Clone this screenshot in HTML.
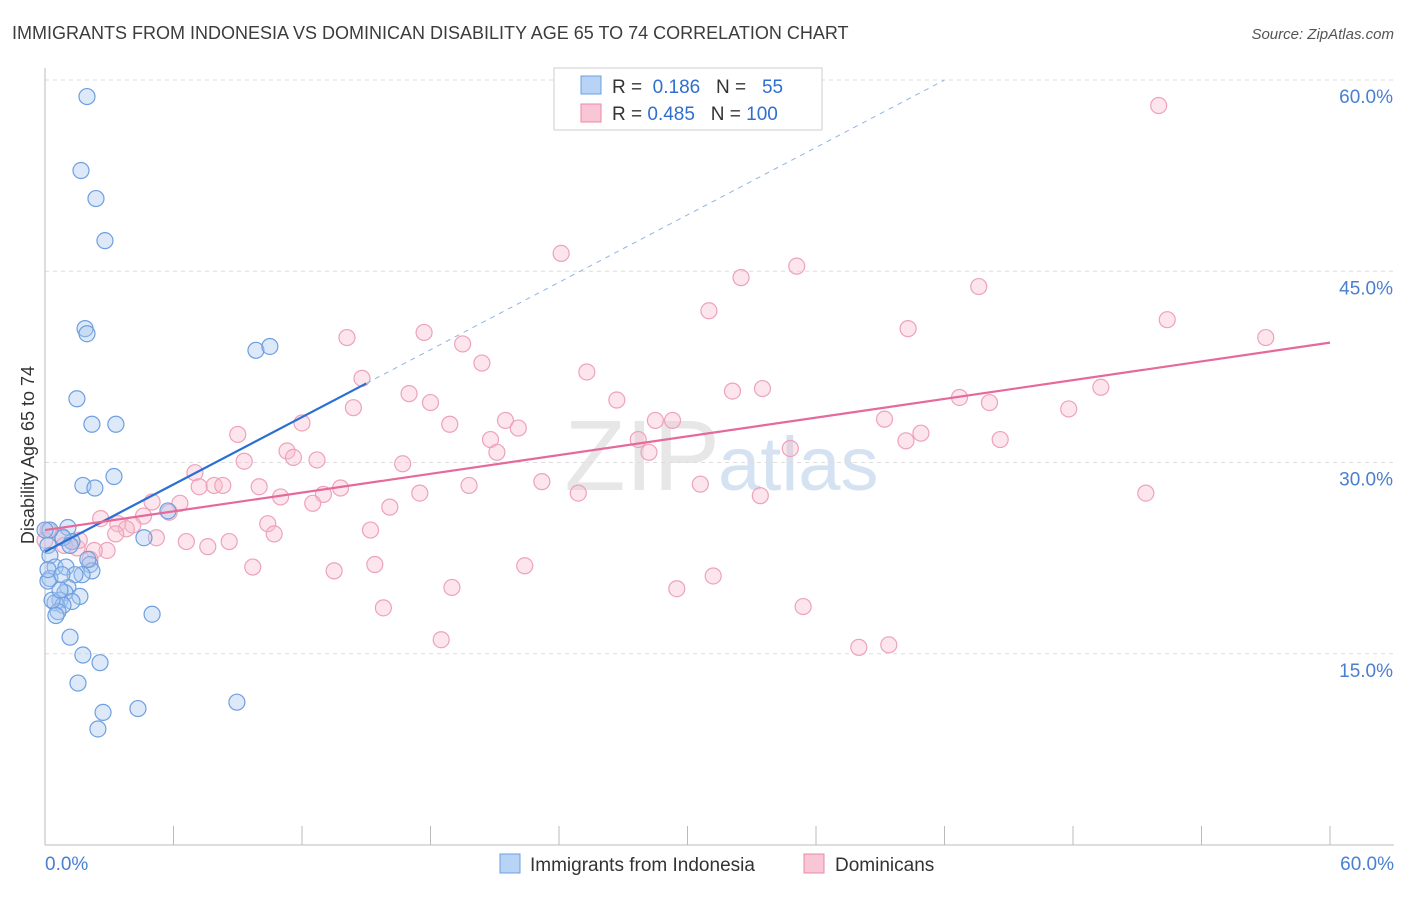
<!DOCTYPE html>
<html><head><meta charset="utf-8"><style>
body{margin:0;background:#fff;font-family:"Liberation Sans",sans-serif}
svg text{font-family:"Liberation Sans",sans-serif}
</style></head><body>
<svg id="c" width="1406" height="892">
<text x="12" y="39" font-size="18" fill="#3c3c3c">IMMIGRANTS FROM INDONESIA VS DOMINICAN DISABILITY AGE 65 TO 74 CORRELATION CHART</text>
<text x="1394" y="39" font-size="15" fill="#555" font-style="italic" text-anchor="end">Source: ZipAtlas.com</text>
<text x="720" y="490" font-size="100" fill="#d8d8d8" text-anchor="end" font-family="Liberation Serif" opacity="0.6">ZIP</text>
<text x="718" y="490" font-size="76" fill="#b8cfe8" opacity="0.6">atlas</text>
<text transform="translate(34,455) rotate(-90)" font-size="18" fill="#333" text-anchor="middle">Disability Age 65 to 74</text>
<g id="grid"></g><g id="marks"></g>
<g>
<rect x="554" y="68" width="268" height="62" fill="#fff" stroke="#ccc"/>
<rect x="581" y="76" width="20" height="18" fill="#b8d3f5" stroke="#6a9fe0"/>
<rect x="581" y="104" width="20" height="18" fill="#f9c6d5" stroke="#e88aa8"/>
<text x="612" y="93" font-size="19" fill="#333">R = <tspan fill="#2f6fd0">&#160;0.186</tspan>&#160;&#160;&#160;N = <tspan fill="#2f6fd0">&#160;&#160;55</tspan></text>
<text x="612" y="120" font-size="19" fill="#333">R = <tspan fill="#2f6fd0">0.485</tspan>&#160;&#160;&#160;N = <tspan fill="#2f6fd0">100</tspan></text>
</g>
<g>
<rect x="500" y="854" width="20" height="19" fill="#b8d3f5" stroke="#6a9fe0"/>
<text x="530" y="871" font-size="19" fill="#333">Immigrants from Indonesia</text>
<rect x="804" y="854" width="20" height="19" fill="#f9c6d5" stroke="#e88aa8"/>
<text x="835" y="871" font-size="19" fill="#333">Dominicans</text>
</g>
</svg>
<script>
const yTicks=[15,30,45,60];
const yTickLabels=["15.0%","30.0%","45.0%","60.0%"];
const xTickLabels=["0.0%","60.0%"];
const blueX=[1.96,1.68,2.38,2.80,1.87,1.96,9.85,10.5,1.49,2.19,3.31,1.77,2.33,3.22,5.74,4.62,1.07,1.26,0.84,0.23,0.14,0.23,0.47,0.98,2.10,2.19,1.73,1.40,0.23,0.14,1.07,1.63,0.93,0.70,1.26,0.47,0.84,0.61,0.51,5.0,1.17,1.77,2.57,1.54,2.71,4.34,8.96,2.47,0,0.33,0.70,0.14,1.17,0.79,2.0];
const blueY=[58.7,52.9,50.7,47.4,40.5,40.1,38.8,39.1,35.0,33.0,33.0,28.2,28.0,28.9,26.2,24.1,24.9,23.8,24.1,24.7,23.5,22.7,21.8,21.8,22.0,21.5,21.2,21.2,20.9,20.7,20.2,19.5,19.8,19.2,19.1,19.0,18.8,18.3,18.0,18.1,16.3,14.9,14.3,12.7,10.4,10.7,11.2,9.1,24.7,19.2,20.0,21.6,23.5,21.2,22.4];
const pinkX=[52.0,24.1,32.5,35.1,43.6,31.0,40.3,52.4,57.0,14.1,17.7,19.5,20.4,14.8,25.3,17.0,18.0,26.7,32.1,33.5,14.4,18.9,21.5,22.1,29.3,28.5,39.2,42.7,44.1,47.8,49.3,40.9,40.2,44.6,9.0,12.0,27.7,20.8,21.1,28.2,34.8,9.3,11.3,11.6,12.7,16.7,7.0,19.8,23.2,30.6,24.9,17.5,10.0,7.2,7.9,8.3,13.8,11.0,13.0,12.5,16.1,5.0,6.3,5.8,4.6,2.6,3.4,4.1,3.8,10.4,10.7,15.2,5.2,6.6,8.6,3.3,7.6,0.8,0.14,0,2.9,2.3,1.5,2.1,9.7,13.5,15.4,22.4,31.2,19.0,29.5,15.8,35.4,18.5,38.0,39.4,33.4,51.4,0.9,1.6];
const pinkY=[58.0,46.4,44.5,45.4,43.8,41.9,40.5,41.2,39.8,39.8,40.2,39.3,37.8,36.6,37.1,35.4,34.7,34.9,35.6,35.8,34.3,33.0,33.3,32.7,33.3,33.3,33.4,35.1,34.7,34.2,35.9,32.3,31.7,31.8,32.2,33.1,31.8,31.8,30.8,30.8,31.1,30.1,30.9,30.4,30.2,29.9,29.2,28.2,28.5,28.3,27.6,27.6,28.1,28.1,28.2,28.2,28.0,27.3,27.5,26.8,26.5,26.9,26.8,26.1,25.8,25.6,25.2,25.1,24.8,25.2,24.4,24.7,24.1,23.8,23.8,24.4,23.4,24.2,24.7,23.9,23.1,23.1,23.3,22.4,21.8,21.5,22.0,21.9,21.1,20.2,20.1,18.6,18.7,16.1,15.5,15.7,27.4,27.6,23.5,23.9];
const blueTrendX=[0,15.0,42.0];
const blueTrendY=[23.0,36.2,60.0];
const pinkTrendX=[0,60];
const pinkTrendY=[24.7,39.4];
const X=v=>45+v*(1285/60), Y=v=>845-v*(765/60);
const NS="http://www.w3.org/2000/svg";
function mk(t,a,p){const e=document.createElementNS(NS,t);for(const k in a)e.setAttribute(k,a[k]);p.appendChild(e);return e;}
const g=document.getElementById('grid'), m=document.getElementById('marks');
yTicks.forEach((t,i)=>{
 const l=mk('line',{x1:45,x2:1394,y1:Y(t),y2:Y(t),stroke:'#ddd','stroke-dasharray':'4,4'},g);
 
 
 const tx=mk('text',{x:1393,y:Y(t)+23,'font-size':19,fill:'#4a7fd0','text-anchor':'end'},g);tx.textContent=yTickLabels[i];
 
 
});
let ax=mk('line',{x1:45,x2:45,y1:68,y2:845,stroke:'#bbb'},g);


ax=mk('line',{x1:45,x2:1394,y1:845,y2:845,stroke:'#bbb'},g);


for(let i=0;i<=10;i++){const t=mk('line',{x1:X(i*6),x2:X(i*6),y1:826,y2:845,stroke:'#bbb'},g);
 
 }
[[0,'start',45],[1,'end',1394]].forEach(([i,a,x])=>{const t=mk('text',{x:x,y:870,'font-size':19,fill:'#4a7fd0','text-anchor':a},g);t.textContent=xTickLabels[i];
 
 });
pinkX.forEach((v,i)=>{const c=mk('circle',{cx:X(v),cy:Y(pinkY[i]),r:8,fill:'rgba(248,190,208,0.4)',stroke:'#eea2ba','stroke-width':1.2},m);
 
 });
blueX.forEach((v,i)=>{const c=mk('circle',{cx:X(v),cy:Y(blueY[i]),r:8,fill:'rgba(170,200,240,0.4)',stroke:'#6e9fe0','stroke-width':1.2},m);
 
 });
let l=mk('line',{x1:X(blueTrendX[1]),y1:Y(blueTrendY[1]),x2:X(blueTrendX[2]),y2:Y(blueTrendY[2]),stroke:'#8fb4e6','stroke-width':1,'stroke-dasharray':'5,5'},m);


l=mk('line',{x1:X(blueTrendX[0]),y1:Y(blueTrendY[0]),x2:X(blueTrendX[1]),y2:Y(blueTrendY[1]),stroke:'#2a6fd4','stroke-width':2.2},m);


l=mk('line',{x1:X(pinkTrendX[0]),y1:Y(pinkTrendY[0]),x2:X(pinkTrendX[1]),y2:Y(pinkTrendY[1]),stroke:'#e5699a','stroke-width':2.2},m);


</script>
</body></html>
